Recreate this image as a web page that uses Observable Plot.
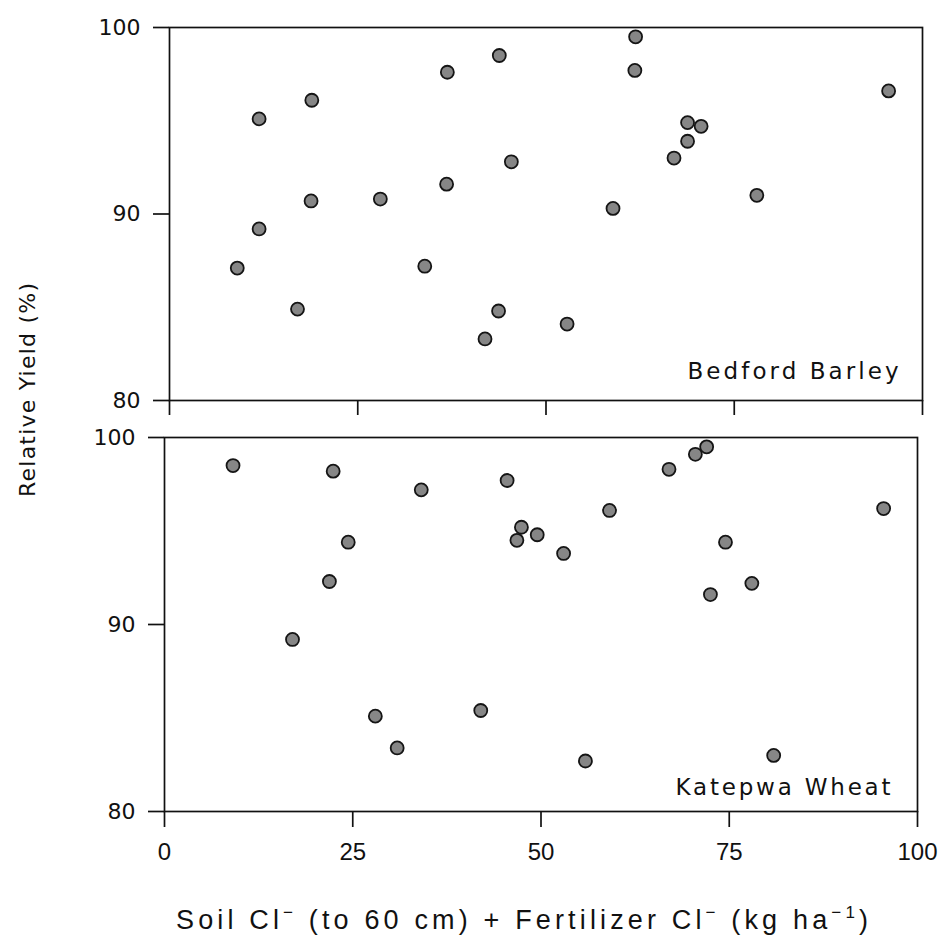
<!DOCTYPE html>
<html>
<head>
<meta charset="utf-8">
<script src="https://cdn.jsdelivr.net/npm/d3@7"></script>
<script src="https://cdn.jsdelivr.net/npm/@observablehq/plot@0.6"></script>
<style>
html, body { margin: 0; padding: 0; background: #fff; }
#chart { position: relative; width: 940px; height: 947px; overflow: hidden; background: #fff; }
#chart > svg { position: absolute; left: 0; }
</style>
</head>
<body>
<div id="chart"></div>
<script>
// ---- data ----
const xTicks = [0, 25, 50, 75, 100];
const yTicks = [80, 90, 100];
const panelLabels = ["Bedford Barley", "Katepwa Wheat"];
const yTitle = "Relative Yield (%)";

const barleyX = [9.0, 11.9, 11.9, 17.0, 18.8, 18.9, 28.0, 33.9, 36.8, 36.9, 43.8, 45.4,
                 43.7, 41.9, 52.8, 58.9, 61.9, 61.8, 68.8, 70.6, 68.8, 67.0, 78.0, 95.5];
const barleyY = [87.1, 89.2, 95.1, 84.9, 90.7, 96.1, 90.8, 87.2, 91.6, 97.6, 98.5, 92.8,
                 84.8, 83.3, 84.1, 90.3, 99.5, 97.7, 94.9, 94.7, 93.9, 93.0, 91.0, 96.6];

const wheatX = [9.1, 22.4, 34.1, 24.4, 21.9, 17.0, 28.0, 30.9, 45.5, 47.4, 46.8, 49.5,
                53.0, 59.1, 67.0, 70.5, 72.0, 74.5, 72.5, 78.0, 95.5, 42.0, 55.9, 80.9];
const wheatY = [98.5, 98.2, 97.2, 94.4, 92.3, 89.2, 85.1, 83.4, 97.7, 95.2, 94.5, 94.8,
                93.8, 96.1, 98.3, 99.1, 99.5, 94.4, 91.6, 92.2, 96.2, 85.4, 82.7, 83.0];

const barley = barleyX.map((x, i) => ({x, y: barleyY[i]}));
const wheat = wheatX.map((x, i) => ({x, y: wheatY[i]}));

const INK = "#111";
const numFont = "DejaVu Sans, Liberation Sans, sans-serif";
const narrowFont = "Liberation Sans, Arial, sans-serif";

function panel(data, label, opts) {
  return Plot.plot({
    width: 940,
    height: opts.height,
    marginLeft: opts.ml, marginRight: opts.mr, marginTop: opts.mt, marginBottom: opts.mb,
    x: {domain: [0, 100]},
    y: {domain: [80, 100]},
    style: {fontFamily: numFont, fontSize: "22px", color: INK, background: "transparent", overflow: "visible"},
    marks: [
      Plot.frame({stroke: INK, strokeWidth: 1.7}),
      Plot.axisY({ticks: yTicks, tickSize: 16, tickPadding: 13, strokeWidth: 1.7, label: null,
                  fontFamily: numFont, fontSize: 22}),
      opts.xLabels
        ? Plot.axisX({ticks: xTicks, tickSize: 16, tickPadding: 15, strokeWidth: 1.7, label: null,
                      fontFamily: narrowFont, fontSize: 24})
        : Plot.axisX({ticks: xTicks, tickSize: 15, strokeWidth: 1.7, label: null, tickFormat: () => ""}),
      Plot.dot(data, {x: "x", y: "y", r: 6.5, fill: "#868686", stroke: "#151515", strokeWidth: 1.8}),
      Plot.text([label], {text: d => d, frameAnchor: "bottom-right", textAnchor: "end", lineAnchor: "middle",
                          dx: opts.ldx, dy: opts.ldy, fontSize: 23, fontFamily: numFont, fill: INK})
    ]
  });
}

const chartEl = document.getElementById("chart");

const topPanel = panel(barley, panelLabels[0], {height: 420, ml: 169, mr: 18, mt: 27, mb: 20, xLabels: false, ldx: -24, ldy: -29});
topPanel.style.top = "0px";
chartEl.appendChild(topPanel);

const bottomPanel = panel(wheat, panelLabels[1], {height: 527, ml: 164, mr: 23, mt: 17, mb: 136, xLabels: true, ldx: -27, ldy: -24});
bottomPanel.style.top = "420px";
chartEl.appendChild(bottomPanel);

// stretch panel labels to the reference's letter spacing
d3.selectAll("#chart svg text").each(function () {
  const t = this.textContent;
  if (t === panelLabels[0]) { d3.select(this).attr("textLength", 211).attr("lengthAdjust", "spacing"); }
  if (t === panelLabels[1]) { d3.select(this).attr("textLength", 215).attr("lengthAdjust", "spacing"); }
});

// overlay for axis titles
const overlay = d3.select(chartEl).append("svg")
  .attr("width", 940).attr("height", 947)
  .style("top", "0px").style("pointer-events", "none");

overlay.append("text")
  .attr("transform", "translate(35,390) rotate(-90)")
  .attr("text-anchor", "middle")
  .attr("font-family", numFont)
  .attr("font-size", 22)
  .attr("fill", INK)
  .attr("textLength", 214).attr("lengthAdjust", "spacing")
  .text(yTitle);

const xt = overlay.append("text")
  .attr("x", 522).attr("y", 929)
  .attr("text-anchor", "middle")
  .attr("font-family", narrowFont)
  .attr("font-size", 27)
  .attr("fill", INK)
  .attr("textLength", 692).attr("lengthAdjust", "spacing");
const parts = [
  ["Soil Cl", 0], ["\u2212", 1], [" (to 60 cm) + Fertilizer Cl", 0], ["\u2212", 1], [" (kg ha", 0], ["\u22121", 1], [")", 0]
];
let raised = false;
for (const [s, sup] of parts) {
  const ts = xt.append("tspan").text(s);
  if (sup && !raised) { ts.attr("dy", -11).attr("font-size", 17); raised = true; }
  else if (sup && raised) { ts.attr("font-size", 17); }
  else if (!sup && raised) { ts.attr("dy", 11); raised = false; }
}
</script>
</body>
</html>
